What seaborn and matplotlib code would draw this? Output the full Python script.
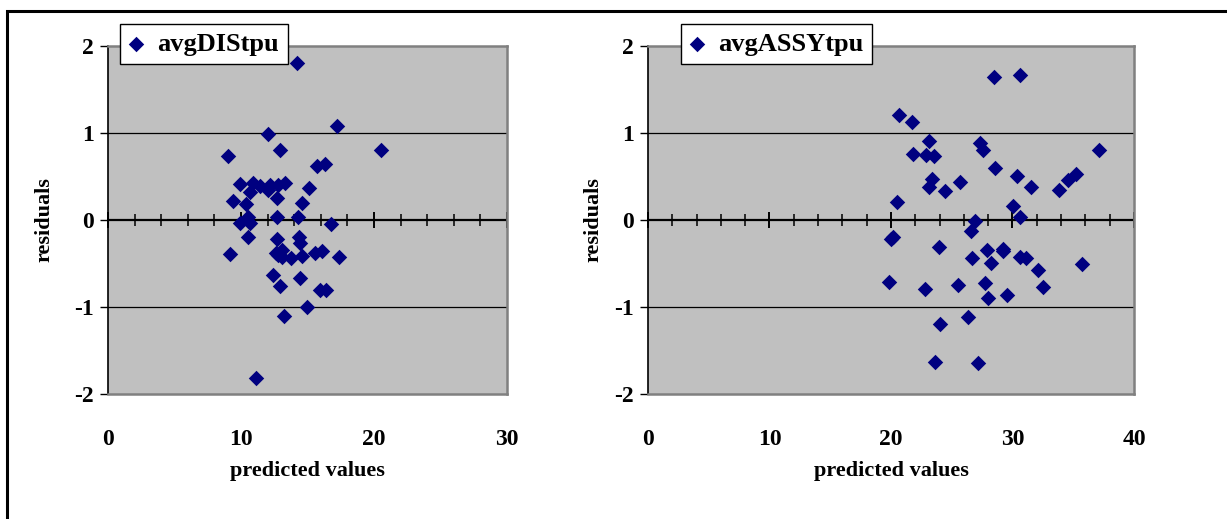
import matplotlib
matplotlib.use("Agg")
import matplotlib.pyplot as plt
import matplotlib.patches as mpatches
from matplotlib.ticker import MultipleLocator, NullFormatter
import seaborn as sns
import pandas as pd

# residuals vs predicted values
dis_pred = [14.2, 17.2, 12.0, 20.5, 12.9, 9.05, 15.7, 16.3, 9.9, 10.9,
            10.7, 11.4, 12.05, 12.2, 12.8, 13.3, 15.1, 9.4, 10.4, 12.7,
            14.6, 12.7, 14.3, 9.9, 10.5, 10.7, 16.8, 10.55, 12.7, 14.35,
            14.45, 9.2, 12.6, 13.1, 13.05, 12.8, 13.75, 14.55, 15.55, 16.1,
            17.4, 12.4, 14.45, 12.9, 15.95, 16.4, 15.0, 13.2, 11.15]
dis_resid = [1.80, 1.08, 0.99, 0.81, 0.81, 0.73, 0.62, 0.64, 0.41, 0.43,
             0.32, 0.39, 0.34, 0.40, 0.40, 0.43, 0.37, 0.22, 0.18, 0.25,
             0.20, 0.04, 0.03, -0.04, 0.03, -0.03, -0.05, -0.19, -0.22, -0.19,
             -0.26, -0.39, -0.38, -0.35, -0.42, -0.40, -0.44, -0.41, -0.38, -0.36,
             -0.43, -0.63, -0.67, -0.76, -0.81, -0.81, -1.00, -1.10, -1.82]

assy_pred = [28.5, 30.6, 20.7, 21.7, 23.15, 21.8, 22.9, 23.55, 27.3, 27.6,
             37.1, 28.6, 30.4, 31.5, 33.8, 34.6, 35.2, 23.35, 23.15, 24.45,
             25.7, 20.5, 30.05, 30.6, 26.9, 26.6, 20.0, 20.2, 23.95, 26.7,
             27.9, 28.2, 29.25, 29.2, 30.6, 31.15, 32.1, 32.5, 35.7, 19.85,
             22.8, 25.5, 27.75, 27.95, 29.55, 26.3, 24.05, 23.65, 27.2]
assy_resid = [1.64, 1.67, 1.21, 1.13, 0.91, 0.76, 0.75, 0.73, 0.88, 0.81,
              0.80, 0.60, 0.50, 0.38, 0.34, 0.46, 0.53, 0.47, 0.38, 0.33,
              0.44, 0.21, 0.16, 0.04, -0.01, -0.13, -0.22, -0.19, -0.31, -0.44,
              -0.35, -0.49, -0.33, -0.36, -0.42, -0.44, -0.58, -0.77, -0.51, -0.71,
              -0.79, -0.75, -0.72, -0.90, -0.86, -1.11, -1.20, -1.63, -1.64]

# name, x data, y data, x max, axes rect, legend left (px), ylabel pad
panels = [
    ("avgDIStpu", dis_pred, dis_resid, 30, [0.088, 0.2408, 0.3252, 0.6706], 120, 14),
    ("avgASSYtpu", assy_pred, assy_resid, 40, [0.5281, 0.2408, 0.3961, 0.6706], 681, 8),
]

sns.set_style("white")
plt.rcParams["font.family"] = ["Liberation Serif", "DejaVu Serif"]
plt.rcParams["font.weight"] = "bold"
plt.rcParams["axes.labelweight"] = "bold"
plt.rcParams["axes.unicode_minus"] = False
for key in ["text.color", "axes.labelcolor", "xtick.color", "ytick.color",
            "xtick.labelcolor", "ytick.labelcolor"]:
    plt.rcParams[key] = "black"

fig = plt.figure(figsize=(12.27, 5.19), dpi=100)

# outer frame (only top and left edges are visible in the reference)
fig.add_artist(mpatches.Rectangle((7 / 1227, -0.2), 1.2, 1.2 - 11 / 519,
                                  transform=fig.transFigure, fill=False,
                                  edgecolor="black", linewidth=2.2))

for name, xs, ys, xmax, rect, leg_x, ypad in panels:
    ax = fig.add_axes(rect)
    df = pd.DataFrame({"pred": xs, "resid": ys})
    ax.set_facecolor("#C0C0C0")
    for s in ["top", "right", "bottom"]:
        ax.spines[s].set_color("#808080")
        ax.spines[s].set_linewidth(1.8)
    ax.spines["left"].set_color("black")
    ax.spines["left"].set_linewidth(1.2)

    for yv in [-1, 1]:
        ax.axhline(yv, color="black", linewidth=0.9, zorder=1)
    ax.axhline(0, color="black", linewidth=1.6, zorder=1)

    sns.scatterplot(data=df, x="pred", y="resid", ax=ax, marker="D", s=62,
                    color="#000080", edgecolor="#000080", linewidth=0,
                    label=name, zorder=5)

    ax.set_xlim(0, xmax)
    ax.set_ylim(-2, 2)
    ax.set_yticks([-2, -1, 0, 1, 2])
    ax.set_xticks(range(0, xmax + 1, 10))
    ax.tick_params(axis="y", direction="out", length=6, width=1, color="black",
                   labelsize=17, pad=4, left=True, labelcolor="black")
    ax.tick_params(axis="x", length=0, labelsize=17, pad=25, labelcolor="black")
    for lbl in ax.get_xticklabels() + ax.get_yticklabels():
        lbl.set_fontweight("bold")
    ax.set_xlabel("predicted values", fontsize=16, fontweight="bold",
                  color="black", labelpad=8)
    ax.set_ylabel("residuals", fontsize=16, fontweight="bold",
                  color="black", labelpad=ypad)

    # crossing x axis at residual = 0
    sec = ax.secondary_xaxis(0.5)
    sec.spines["bottom"].set_visible(False)
    sec.spines["top"].set_visible(False)
    sec.set_xticks(range(0, xmax + 1, 10))
    sec.xaxis.set_major_formatter(NullFormatter())
    sec.xaxis.set_minor_locator(MultipleLocator(2))
    sec.tick_params(which="major", direction="inout", length=12, width=1.4,
                    color="black", labelbottom=False, labeltop=False)
    sec.tick_params(which="minor", direction="inout", length=8, width=1.1,
                    color="black")

    leg = ax.legend(loc="upper left", bbox_to_anchor=(leg_x / 1227, 1 - 24 / 519),
                    bbox_transform=fig.transFigure, borderaxespad=0,
                    frameon=True, fancybox=False, handlelength=0.6,
                    handletextpad=0.5, borderpad=0.32,
                    prop={"size": 19, "weight": "bold"})
    for t in leg.get_texts():
        t.set_color("black")
    leg.get_frame().set_edgecolor("black")
    leg.get_frame().set_linewidth(1.0)
    leg.get_frame().set_alpha(1)

fig.savefig("out.png", dpi=100)
